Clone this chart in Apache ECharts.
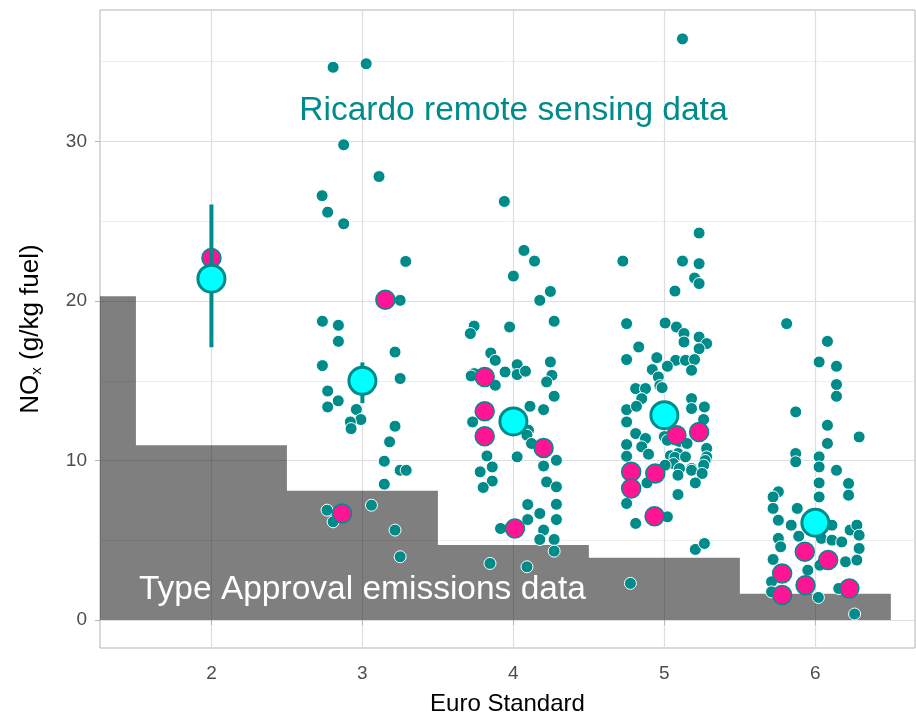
<!DOCTYPE html>
<html>
<head>
<meta charset="utf-8">
<script src="https://cdn.jsdelivr.net/npm/echarts@6/dist/echarts.min.js"></script>
<style>html,body{margin:0;padding:0;background:#fff}#c{width:916px;height:716px}</style>
</head>
<body>
<div id="c"></div>
<script>
// ---- Data ----
var xTicks = [2, 3, 4, 5, 6];
var yTicks = [0, 10, 20, 30];
var yMinorTicks = [5, 15, 25, 35];

// Type approval limits per Euro standard
var taEuro = [1, 2, 3, 4, 5, 6];
var taLimit = [20.3, 10.96, 8.1, 4.7, 3.9, 1.65];

// Remote sensing points (jittered x, NOx)
var rsdEuro3 = [[2.806,34.65],[3.025,34.87],[2.876,29.79],[3.11,27.8],[2.733,26.6],[2.77,25.57],[2.876,24.84],[3.287,22.48],[3.25,20.04],[2.735,18.73],[2.841,18.48],[2.841,17.47],[3.216,16.8],[2.735,15.95],[3.25,15.14],[2.77,14.36],[2.84,13.74],[2.77,13.36],[2.96,13.2],[2.99,12.57],[2.92,12.42],[2.925,12.0],[3.216,12.15],[3.18,11.17],[3.145,9.96],[3.25,9.39],[3.29,9.39],[3.145,8.52],[3.06,7.2],[2.766,6.89],[2.806,6.16],[3.216,5.64],[3.25,3.97]];
var rsdEuro4 = [[3.94,26.24],[4.07,23.17],[4.14,22.5],[4.0,21.56],[4.245,20.6],[4.175,20.04],[4.27,18.73],[3.74,18.43],[3.715,17.96],[3.975,18.37],[3.85,16.74],[3.88,16.28],[4.025,16.01],[4.245,16.18],[4.255,15.34],[3.945,15.55],[4.025,15.39],[4.08,15.6],[3.74,15.45],[3.72,15.3],[3.88,14.72],[4.22,14.93],[4.27,14.03],[4.11,13.4],[4.2,13.19],[3.73,12.42],[4.06,12.0],[4.1,11.9],[4.09,11.59],[4.12,11.07],[4.285,10.02],[4.2,9.66],[3.825,10.29],[4.025,10.23],[3.86,9.6],[3.78,9.29],[3.86,8.71],[3.8,8.31],[4.22,8.66],[4.285,8.35],[4.095,7.24],[4.285,7.26],[4.175,6.68],[4.095,6.3],[4.285,6.3],[3.915,5.74],[4.2,5.64],[4.175,5.05],[4.27,5.05],[4.27,4.32],[3.845,3.55],[4.09,3.34]];
var rsdEuro5 = [[5.12,36.43],[5.23,24.26],[4.725,22.5],[5.12,22.5],[5.23,22.34],[5.2,21.44],[5.23,21.09],[5.07,20.62],[4.75,18.58],[5.005,18.62],[5.08,18.37],[5.13,17.96],[5.13,17.43],[5.23,17.74],[5.28,17.33],[5.23,17.01],[4.83,17.12],[4.75,16.33],[4.95,16.45],[5.075,16.28],[5.14,16.28],[5.2,16.33],[5.02,15.91],[4.92,15.7],[5.18,15.66],[4.96,15.24],[4.97,14.7],[4.81,14.51],[4.875,14.51],[4.985,14.57],[4.85,13.88],[4.75,13.19],[4.815,13.4],[5.18,13.88],[5.18,13.26],[5.265,13.36],[4.75,12.42],[5.26,12.57],[4.81,11.69],[4.875,11.38],[5.0,11.5],[5.1,11.2],[4.75,11.0],[5.02,11.27],[5.15,11.07],[5.28,10.76],[4.85,10.86],[4.75,10.27],[4.895,10.4],[5.09,10.44],[5.04,10.3],[5.07,10.2],[5.14,10.23],[5.28,10.23],[5.27,10.0],[5.06,9.81],[5.1,9.5],[5.18,9.5],[5.005,9.71],[5.26,9.71],[5.18,9.39],[5.25,9.19],[5.09,9.08],[4.885,8.6],[5.205,8.6],[4.75,7.31],[5.09,7.87],[5.02,6.47],[4.81,6.06],[5.205,4.43],[5.265,4.8],[4.775,2.3]];
var rsdEuro6 = [[5.81,18.58],[6.08,17.47],[6.025,16.18],[6.14,15.91],[6.14,14.76],[6.14,14.03],[5.87,13.05],[6.08,12.21],[6.29,11.48],[6.08,11.07],[5.87,10.44],[5.87,9.92],[6.025,10.23],[6.025,9.6],[6.14,9.39],[6.025,8.6],[6.22,8.56],[6.22,7.83],[6.025,7.72],[5.755,8.04],[5.72,7.72],[5.72,7.0],[5.88,7.0],[5.755,6.26],[5.84,5.95],[6.11,5.95],[5.89,5.26],[5.755,5.12],[5.77,4.59],[6.23,5.64],[6.275,5.95],[6.29,5.32],[6.04,5.12],[6.11,5.01],[6.175,4.9],[6.29,4.49],[5.72,3.8],[5.95,3.13],[6.2,3.65],[6.275,3.76],[6.03,3.44],[5.71,2.4],[5.71,1.77],[6.02,1.42],[6.155,1.98],[6.26,0.38]];

// Highlighted vehicles (pink)
var pinkPoints = [[2.0,22.7],[3.152,20.08],[2.865,6.68],[3.81,15.24],[3.81,13.09],[3.81,11.52],[4.2,10.79],[4.01,5.74],[5.08,11.59],[5.23,11.79],[4.78,9.29],[4.94,9.19],[4.78,8.25],[4.935,6.51],[5.93,4.28],[6.085,3.76],[5.78,2.92],[5.935,2.19],[6.225,1.98],[5.78,1.57]];

// Mean per Euro standard with error bar
var meanEuro = [2, 3, 4, 5, 6];
var meanNOx = [21.4, 15.0, 12.45, 12.84, 6.1];
var errLow = [17.1, 13.6, 11.6, 12.0, 5.4];
var errHigh = [26.05, 16.15, 13.3, 13.7, 6.8];

// Annotations
var annoText = ['Ricardo remote sensing data', 'Type Approval emissions data'];
var annoX = [4.0, 3.0];
var annoY = [31.9, 1.88];

// ---- Build ----
var TEAL = '#008B8B';
var FONT = '"Liberation Sans", Arial, sans-serif';

var stepData = taEuro.map(function (e, i) { return [e - 0.5, taLimit[i]]; });
stepData.push([taEuro[taEuro.length - 1] + 0.5, taLimit[taLimit.length - 1]]);

var rsdAll = rsdEuro3.concat(rsdEuro4, rsdEuro5, rsdEuro6);
var meanData = meanEuro.map(function (e, i) { return [e, meanNOx[i]]; });
var errData = meanEuro.map(function (e, i) { return [e, errLow[i], errHigh[i]]; });

var gridLines = [];
yTicks.forEach(function (v) { gridLines.push({ yAxis: v, lineStyle: { color: '#DEDEDE', width: 1.2 } }); });
yMinorTicks.forEach(function (v) { gridLines.push({ yAxis: v, lineStyle: { color: '#E8E8E8', width: 0.8 } }); });
xTicks.forEach(function (v) { gridLines.push({ xAxis: v, lineStyle: { color: '#DEDEDE', width: 1.2 } }); });

var chart = echarts.init(document.getElementById('c'), null, { renderer: 'canvas' });
chart.setOption({
  animation: false,
  backgroundColor: '#ffffff',
  textStyle: { fontFamily: FONT },
  grid: { left: 100, right: 1, top: 10, bottom: 68, outerBoundsMode: 'none', containLabel: false,
    show: true, borderColor: '#B3B3B3', borderWidth: 1, backgroundColor: 'transparent' },
  xAxis: {
    type: 'value', min: 1.262, max: 6.66,
    name: 'Euro Standard', nameLocation: 'middle', nameGap: 44,
    nameTextStyle: { fontSize: 24, color: '#000', fontFamily: FONT },
    axisLine: { show: false },
    axisTick: { show: true, length: 5, lineStyle: { color: '#B3B3B3' }, customValues: xTicks },
    axisLabel: { fontSize: 19, color: '#4D4D4D', margin: 16, fontFamily: FONT, customValues: xTicks },
    splitLine: { show: false }
  },
  yAxis: {
    type: 'value', min: -1.75, max: 38.24,
    name: 'NO{sub|x} (g/kg fuel)', nameLocation: 'middle', nameGap: 56, nameRotate: 90,
    nameTextStyle: { fontSize: 26, color: '#000', fontFamily: FONT,
      rich: { sub: { fontSize: 15, color: '#000', fontFamily: FONT, verticalAlign: 'bottom', padding: [10, 0, 0, 0] } } },
    axisLine: { show: false },
    axisTick: { show: true, length: 5, lineStyle: { color: '#B3B3B3' }, customValues: yTicks },
    axisLabel: { fontSize: 19, color: '#4D4D4D', margin: 13, fontFamily: FONT, customValues: yTicks },
    splitLine: { show: false }
  },
  series: [
    { type: 'scatter', name: 'grid', data: [], z: 0, zlevel: 0, silent: true,
      markLine: { z: 0, silent: true, symbol: ['none', 'none'], label: { show: false }, animation: false,
        lineStyle: { type: 'solid' }, emphasis: { disabled: true }, data: gridLines } },
    { type: 'line', name: 'Type approval', data: stepData, step: 'end', z: 1, symbol: 'none', silent: true,
      lineStyle: { width: 0, opacity: 0 }, areaStyle: { color: '#000', opacity: 0.5 } },
    { type: 'scatter', name: 'RSD', data: rsdAll, z: 2, symbolSize: 12,
      itemStyle: { color: TEAL, borderColor: '#fff', borderWidth: 1, opacity: 1 } },
    { type: 'scatter', name: 'Vehicles', data: pinkPoints, z: 3, symbolSize: 19,
      itemStyle: { color: '#FF1493', borderColor: TEAL, borderWidth: 1.5, opacity: 1 } },
    { type: 'custom', name: 'Error', data: errData, z: 4,
      renderItem: function (params, api) {
        var p1 = api.coord([api.value(0), api.value(1)]);
        var p2 = api.coord([api.value(0), api.value(2)]);
        return { type: 'line', shape: { x1: p1[0], y1: p1[1], x2: p2[0], y2: p2[1] },
          style: { stroke: TEAL, lineWidth: 4 } };
      } },
    { type: 'scatter', name: 'Mean', data: meanData, z: 5, symbolSize: 27,
      itemStyle: { color: '#00FFFF', borderColor: TEAL, borderWidth: 3, opacity: 1 } },
    { type: 'scatter', name: 'Annotations', z: 6, symbolSize: 1, silent: true,
      itemStyle: { opacity: 0 },
      data: annoText.map(function (t, i) {
        return { value: [annoX[i], annoY[i]], name: t,
          label: { show: true, position: 'inside', formatter: t, fontSize: 33.5, fontFamily: FONT,
            color: i === 0 ? TEAL : '#FFFFFF', textBorderWidth: 0, opacity: 1 } };
      }) }
  ]
});
</script>
</body>
</html>
